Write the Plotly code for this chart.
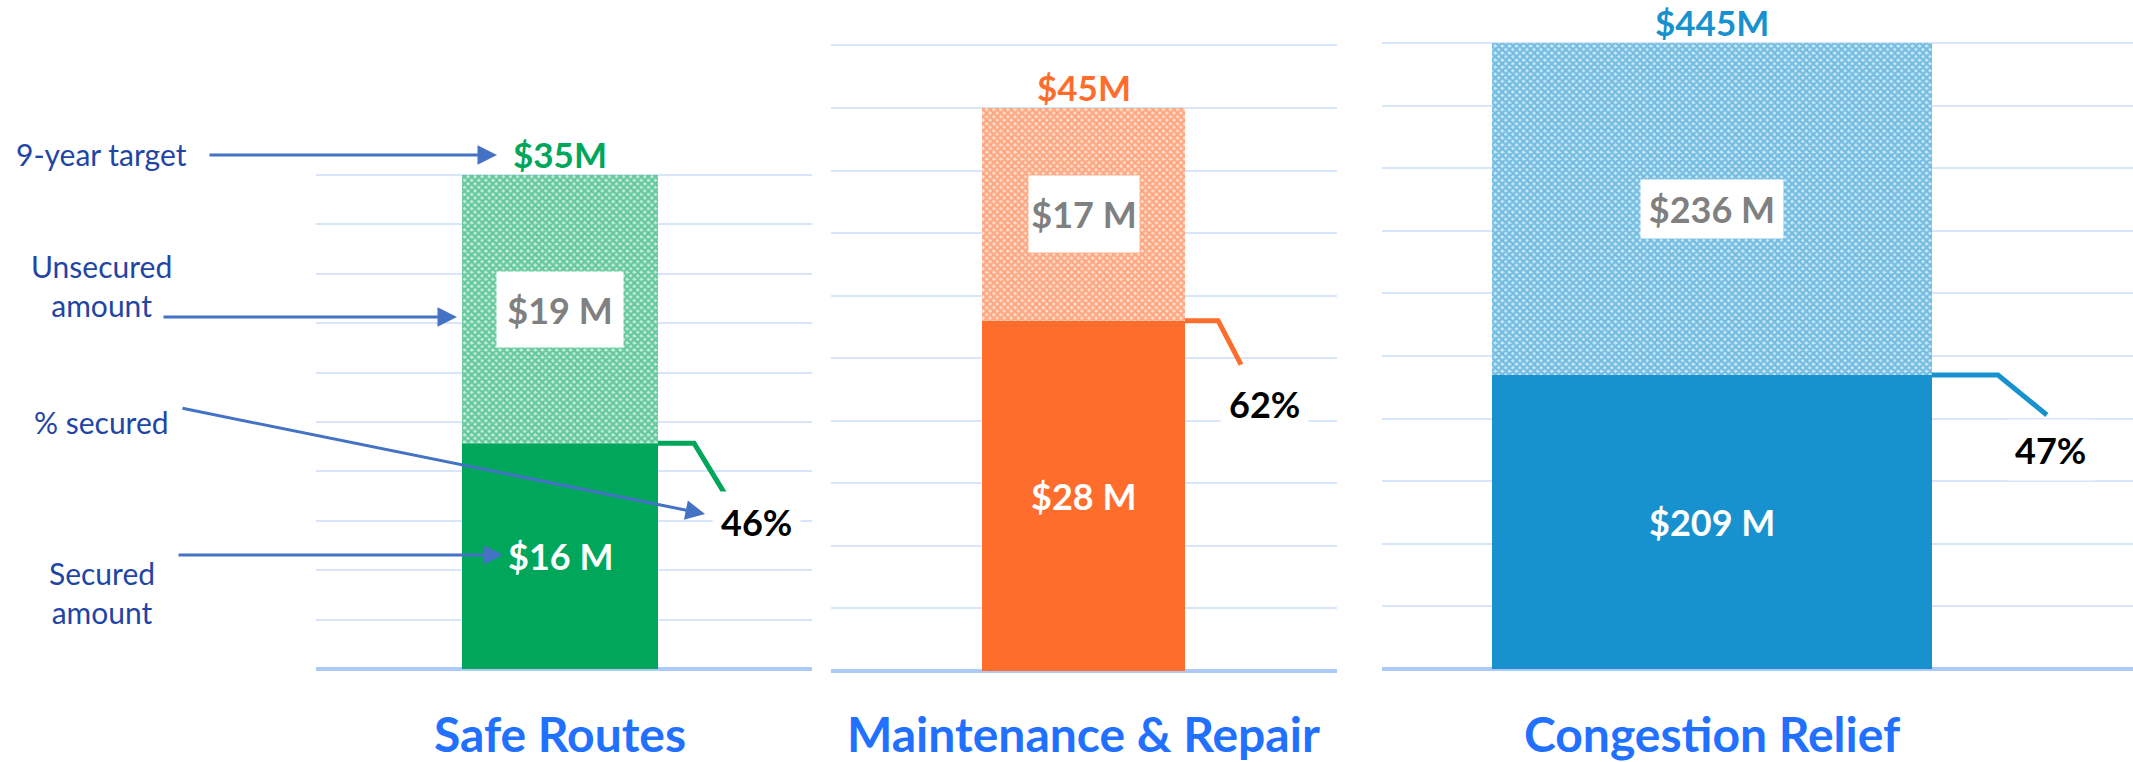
import plotly.graph_objects as go

# ---------------- data ----------------
categories = ["Safe Routes", "Maintenance & Repair", "Congestion Relief"]
secured = [16, 28, 209]          # $M secured
unsecured = [19, 17, 236]        # $M unsecured
targets = [35, 45, 445]          # 9-year target, $M
pct_secured = [46, 62, 47]       # % secured
grid_steps = [3.5, 5, 44.5]
grid_tops = [35, 50, 445]

colors = ["#00A65A", "#FF6D2D", "#1792CF"]
title_color = "#2170FF"
note_color = "#1F45A5"
arrow_color = "#4472C4"
grid_color = "#D9E5FA"
base_color = "#ADC9FA"
FONT = "Lato"


def tint(hex_color, f):
    r, g, b = (int(hex_color[k:k + 2], 16) for k in (1, 3, 5))
    return "#%02X%02X%02X" % tuple(int(round(255 - (255 - v) * f)) for v in (r, g, b))


# ---------------- geometry (pixels) ----------------
W, H = 2133, 762
panel_x = [(316, 812), (831, 1337), (1382, 2133)]
bar_px = [(462, 658), (982, 1185), (1492, 1932)]
baseline_px = [669, 671, 669]
top_px = [175, 108, 43]
DOM_BOTTOM = 700

# leader lines / % labels offsets (bar-widths in x, pixels down in y)
lead_h = [0.684, 0.663, 0.65]
lead_d = [0.842, 0.776, 0.761]
lead_drop = [51, 44, 40]
lab_x = [1.0, 0.894, 0.77]
lab_drop = [79, 83, 75]
# white box sizes around unsecured labels
box_w = [126, 110, 142]
box_h = [75, 76, 58]

fig = go.Figure()
shapes = []
annotations = []

for i in range(3):
    sx = "" if i == 0 else str(i + 1)
    xa, ya = "x" + sx, "y" + sx
    c = colors[i]
    scale = (baseline_px[i] - top_px[i]) / targets[i]
    unit = bar_px[i][1] - bar_px[i][0]
    xr = [-0.5 - (bar_px[i][0] - panel_x[i][0]) / unit,
          0.5 + (panel_x[i][1] - bar_px[i][1]) / unit]
    yr = [(baseline_px[i] - DOM_BOTTOM) / scale, baseline_px[i] / scale]
    n = int(round(grid_tops[i] / grid_steps[i]))
    tickvals = [k * grid_steps[i] for k in range(1, n + 1)]

    fig.add_trace(go.Bar(x=[0], y=[secured[i]], width=1, xaxis=xa, yaxis=ya,
                         marker=dict(color=c, line=dict(width=0)),
                         hoverinfo="skip", showlegend=False))
    fig.add_trace(go.Bar(x=[0], y=[unsecured[i]], base=[secured[i]], width=1,
                         xaxis=xa, yaxis=ya,
                         marker=dict(color=c, line=dict(width=0),
                                     pattern=dict(shape="x", fgcolor=c,
                                                  bgcolor=tint(c, 0.22),
                                                  size=5, solidity=0.7)),
                         hoverinfo="skip", showlegend=False))

    fig.layout["xaxis" + sx] = dict(domain=[panel_x[i][0] / W, panel_x[i][1] / W],
                                    range=xr, showgrid=False, zeroline=False,
                                    showticklabels=False, fixedrange=True,
                                    anchor=ya)
    fig.layout["yaxis" + sx] = dict(domain=[1 - DOM_BOTTOM / H, 1], range=yr,
                                    tickvals=tickvals, showticklabels=False,
                                    showgrid=True, gridcolor=grid_color, gridwidth=2,
                                    zeroline=True, zerolinecolor=base_color,
                                    zerolinewidth=4, fixedrange=True, anchor=xa)

    # leader line
    ys = secured[i]
    y2 = ys - lead_drop[i] / scale
    shapes.append(dict(type="path", xref=xa, yref=ya,
                       path=f"M 0.5 {ys} L {lead_h[i]} {ys} L {lead_d[i]} {y2}",
                       line=dict(color=c, width=5)))
    # % label
    annotations.append(dict(xref=xa, yref=ya, x=lab_x[i], y=ys - lab_drop[i] / scale,
                            xanchor="center", yanchor="middle",
                            text=f"<b>{pct_secured[i]}%</b>", showarrow=False,
                            font=dict(family=FONT, size=36, color="black"),
                            bgcolor="white", borderpad=8))
    # secured label
    annotations.append(dict(xref=xa, yref=ya, x=0, y=secured[i] / 2,
                            xanchor="center", yanchor="middle",
                            text=f"<b>${secured[i]} M</b>", showarrow=False,
                            font=dict(family=FONT, size=36, color="white")))
    # unsecured label with white box
    annotations.append(dict(xref=xa, yref=ya, x=0, y=secured[i] + unsecured[i] / 2,
                            xanchor="center", yanchor="middle",
                            text=f"<b>${unsecured[i]} M</b>", showarrow=False,
                            font=dict(family=FONT, size=36, color="#808080"),
                            bgcolor="white", width=box_w[i], height=box_h[i],
                            borderpad=0))
    # target label
    annotations.append(dict(xref=xa, yref=ya, x=0, y=targets[i], yshift=21,
                            text=f"<b>${targets[i]}M</b>", showarrow=False,
                            xanchor="center", yanchor="middle", borderpad=0,
                            font=dict(family=FONT, size=35, color=c)))
    # category title
    annotations.append(dict(xref=xa, yref="paper", x=0, y=1 - 733 / H,
                            xanchor="center", yanchor="middle", borderpad=0,
                            text=f"<b>{categories[i]}</b>", showarrow=False,
                            font=dict(family=FONT, size=48, color=title_color)))

# ---------------- left-hand explanatory notes ----------------
notes = [("9-year target", 102, 154), ("Unsecured<br>amount", 102, 286),
         ("% secured", 102, 422), ("Secured<br>amount", 102, 592)]
for t, x, y in notes:
    annotations.append(dict(xref="paper", yref="paper", x=x / W, y=1 - y / H,
                            xanchor="center", yanchor="middle",
                            text=t, showarrow=False,
                            font=dict(family=FONT, size=30, color=note_color)))

arrows = [((208, 155), (497, 155)), ((162, 317), (457, 317)),
          ((181, 408), (705, 514)), ((177, 555), (503, 555))]
for (tx, ty), (hx, hy) in arrows:
    annotations.append(dict(xref="paper", yref="paper", x=hx / W, y=1 - hy / H,
                            axref="pixel", ayref="pixel", ax=tx - hx, ay=ty - hy,
                            text="", showarrow=True, arrowhead=2, arrowsize=1.3,
                            arrowwidth=3, arrowcolor=arrow_color, standoff=0,
                            startstandoff=0))

fig.update_layout(width=W, height=H, margin=dict(l=0, r=0, t=0, b=0),
                  paper_bgcolor="white", plot_bgcolor="white",
                  barmode="overlay", showlegend=False,
                  shapes=shapes, annotations=annotations)

fig.write_html("out.html", config={"displayModeBar": False},
               post_script="document.body.style.margin='0';document.body.style.overflow='hidden';")
